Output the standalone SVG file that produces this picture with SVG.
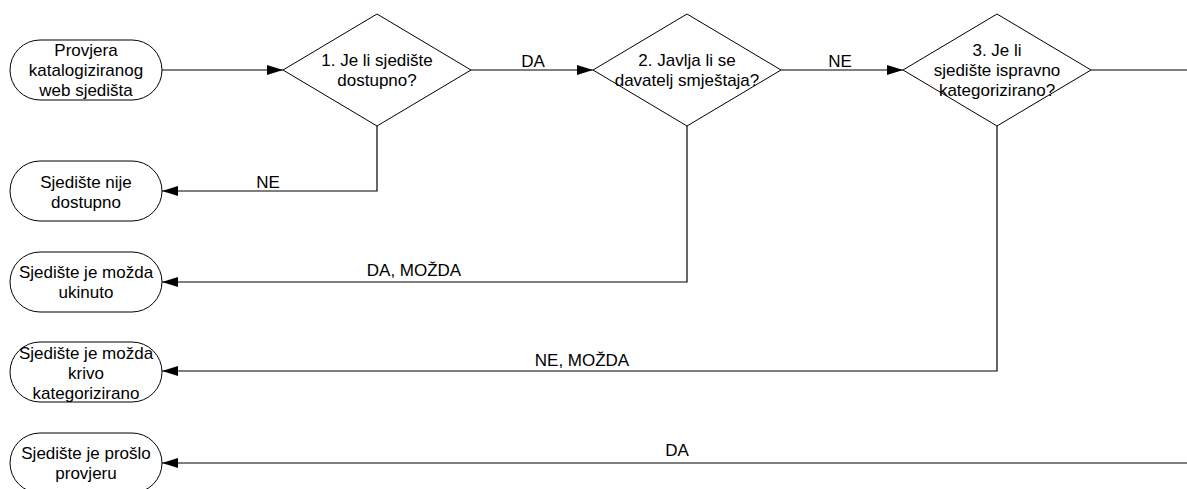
<svg xmlns="http://www.w3.org/2000/svg" width="1187" height="489" viewBox="0 0 1187 489">
<style>
.shape{fill:#fff;stroke:#000;stroke-width:1}
.conn{fill:none;stroke:#000;stroke-width:1.2}
text{font-family:"Liberation Sans",Arial,sans-serif;font-size:17px;fill:#000;text-anchor:middle}
</style>
<defs>
<marker id="arr" viewBox="0 0 16 10" refX="16" refY="5" markerWidth="16" markerHeight="10" markerUnits="userSpaceOnUse" orient="auto">
<path d="M0,0 L16,5 L0,10 Z" fill="#000"/>
</marker>
</defs>
<rect width="1187" height="489" fill="#fff"/>
<g id="connectors">
<path class="conn" d="M162,70 H283" marker-end="url(#arr)"/>
<path class="conn" d="M471,70 H593" marker-end="url(#arr)"/>
<path class="conn" d="M781,70 H903" marker-end="url(#arr)"/>
<path class="conn" d="M1091,70 H1187"/>
<path class="conn" d="M377,126 V191 H162" marker-end="url(#arr)"/>
<path class="conn" d="M687,126 V282 H162" marker-end="url(#arr)"/>
<path class="conn" d="M997,126 V371 H162" marker-end="url(#arr)"/>
<path class="conn" d="M1187,463 H162" marker-end="url(#arr)"/>
<text x="533" y="67">DA</text>
<text x="840" y="67">NE</text>
<text x="268" y="188">NE</text>
<text x="414" y="276">DA, MOŽDA</text>
<text x="582" y="366">NE, MOŽDA</text>
<text x="677" y="456">DA</text>
</g>
<g id="start">
<rect class="shape" x="10" y="40" width="152" height="60" rx="30"/>
<text x="86" y="56">Provjera</text>
<text x="86" y="76">katalogiziranog</text>
<text x="86" y="96">web sjedišta</text>
</g>
<g id="q1">
<polygon class="shape" points="377,14 471,70 377,126 283,70"/>
<text x="377" y="66">1. Je li sjedište</text>
<text x="377" y="86">dostupno?</text>
</g>
<g id="q2">
<polygon class="shape" points="687,14 781,70 687,126 593,70"/>
<text x="687" y="66">2. Javlja li se</text>
<text x="687" y="86">davatelj smještaja?</text>
</g>
<g id="q3">
<polygon class="shape" points="997,14 1091,70 997,126 903,70"/>
<text x="997" y="56">3. Je li</text>
<text x="997" y="76">sjedište ispravno</text>
<text x="997" y="96">kategorizirano?</text>
</g>
<g id="end1">
<rect class="shape" x="10" y="161" width="152" height="60" rx="30"/>
<text x="86" y="188">Sjedište nije</text>
<text x="86" y="208">dostupno</text>
</g>
<g id="end2">
<rect class="shape" x="10" y="252" width="152" height="60" rx="30"/>
<text x="86" y="278">Sjedište je možda</text>
<text x="86" y="298">ukinuto</text>
</g>
<g id="end3">
<rect class="shape" x="10" y="342" width="152" height="60" rx="30"/>
<text x="86" y="359">Sjedište je možda</text>
<text x="86" y="379">krivo</text>
<text x="86" y="399">kategorizirano</text>
</g>
<g id="end4">
<rect class="shape" x="10" y="433" width="152" height="60" rx="30"/>
<text x="86" y="459">Sjedište je prošlo</text>
<text x="86" y="479">provjeru</text>
</g>
</svg>
